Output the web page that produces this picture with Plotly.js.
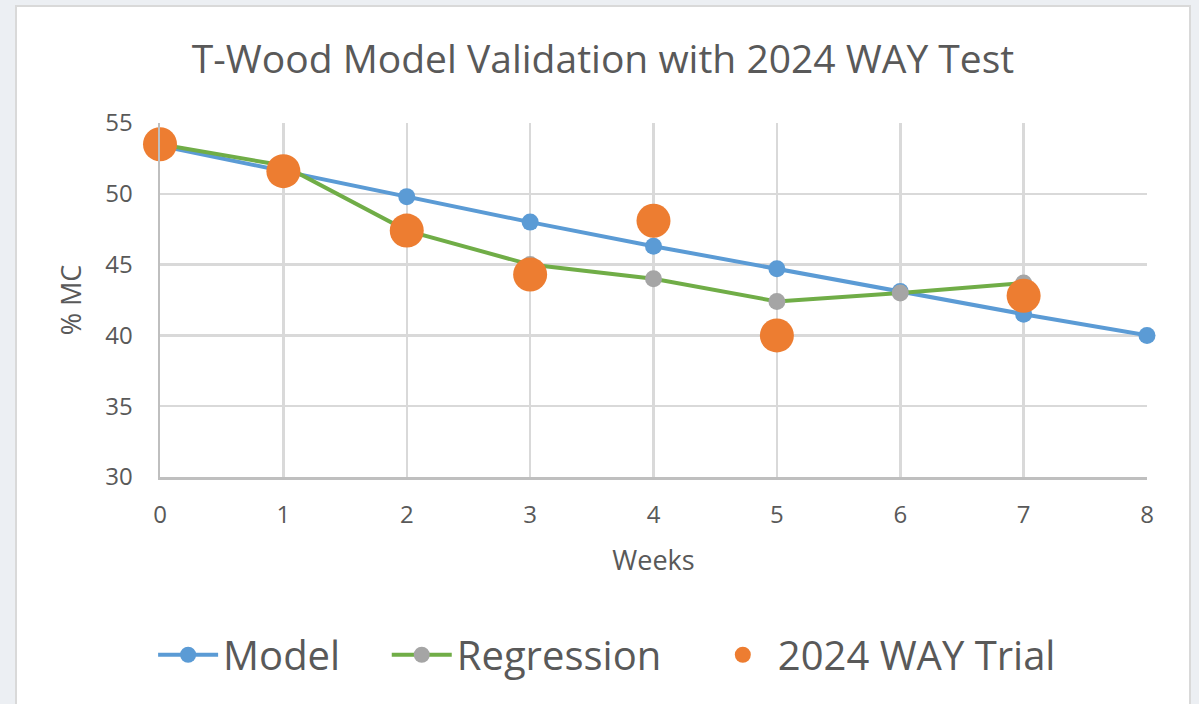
<!DOCTYPE html>
<html><head><meta charset="utf-8">
<script src="https://cdn.plot.ly/plotly-3.0.1.min.js"></script>
<style>
html,body{margin:0;padding:0;background:#eceff3;width:1199px;height:704px;overflow:hidden;}
#chart{position:absolute;left:15px;top:5px;width:1176px;height:705px;background:#fff;border:2px solid #d9d9d9;box-sizing:border-box;}
</style></head>
<body><div id="chart"></div>
<script>
const weeks = [0,1,2,3,4,5,6,7,8];
const model = [53.4,51.6,49.8,48.0,46.3,44.7,43.1,41.5,40.0];
const regWeeks = [0,1,2,3,4,5,6,7];
const regression = [53.5,52.0,47.4,45.0,44.0,42.4,43.0,43.7];
const trialWeeks = [0,1,2,3,4,5,7];
const trial = [53.5,51.6,47.4,44.3,48.1,40.0,42.8];
const xTicks = [0,1,2,3,4,5,6,7,8];
const yTicks = [30,35,40,45,50,55];
const seriesNames = ['Model','Regression','2024 WAY Trial'];

const font = "Open Sans, Noto Sans, sans-serif";
const grey = '#595959';
const pad = '\u00a0\u00a0\u00a0\u00a0';
const traces = [
 {x:weeks,y:model,name:seriesNames[0]+pad,mode:'lines+markers',type:'scatter',
  line:{color:'#5b9bd5',width:4},marker:{color:'#5b9bd5',size:17},cliponaxis:false},
 {x:regWeeks,y:regression,name:seriesNames[1]+pad,mode:'lines+markers',type:'scatter',
  line:{color:'#70ad47',width:4},marker:{color:'#a5a5a5',size:17},cliponaxis:false},
 {x:trialWeeks,y:trial,name:seriesNames[2],mode:'markers',type:'scatter',
  marker:{color:'#ed7d31',size:34},cliponaxis:false}
];
const layout = {
 width:1172,height:701,
 paper_bgcolor:'#ffffff',plot_bgcolor:'#ffffff',
 margin:{l:143,r:42,t:116,b:231},
 title:{text:'T-Wood Model Validation with 2024 WAY Test',font:{family:font,size:39,color:grey},
  x:0.5,xanchor:'center',yref:'container',y:0.925,yanchor:'middle'},
 xaxis:{range:[0,8],tickvals:xTicks,ticktext:xTicks.map(String),showgrid:true,gridcolor:'#d9d9d9',gridwidth:2.5,
  zeroline:false,showline:true,linecolor:'#bfbfbf',linewidth:2.5,ticks:'',ticklabelstandoff:15,
  tickfont:{family:font,size:24,color:grey},
  title:{text:'Weeks',font:{family:font,size:27,color:grey},standoff:22}},
 yaxis:{range:[30,55],tickvals:yTicks,showgrid:true,gridcolor:'#d9d9d9',gridwidth:2.5,
  zeroline:false,showline:true,linecolor:'#bfbfbf',linewidth:2.5,ticks:'',ticklabelstandoff:20,
  tickfont:{family:font,size:24,color:grey},
  title:{text:'% MC',font:{family:font,size:27,color:grey},standoff:16}},
 legend:{orientation:'h',x:0.453,xanchor:'center',yref:'container',y:0.076,yanchor:'middle',
  font:{family:font,size:40,color:grey},itemwidth:60},
 showlegend:true
};
Plotly.newPlot('chart',traces,layout,{displayModeBar:false,staticPlot:true});
</script></body></html>
